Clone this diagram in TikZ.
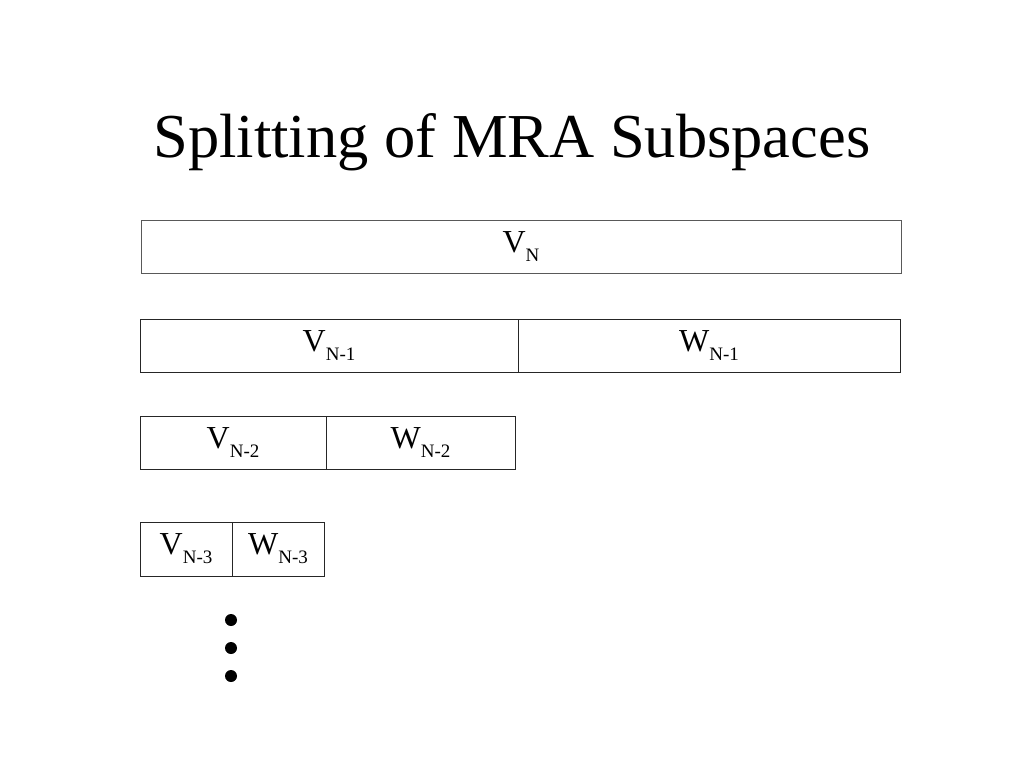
\documentclass[tikz,border=0pt]{standalone}
\usepackage{fontspec}
\setmainfont{Liberation Serif}
\newcommand{\subsp}[2]{#1\raisebox{-9pt}{\fontsize{19}{20}\selectfont #2}}
\tikzset{
	cell/.style={draw=black!85, line width=1pt, rectangle, inner sep=0pt, minimum height=53pt, font=\fontsize{32}{34}\selectfont},
	bigdot/.style={circle, fill=black, inner sep=0pt, minimum size=12pt}
}
\begin{document}
\begin{tikzpicture}[x=1pt, y=-1pt]
	        \useasboundingbox (0, 0) rectangle (1024, 768);
	        \node [anchor=base] at (512, 157) (title) {\fontsize{62.5}{66}\selectfont Splitting of MRA Subspaces};
	        
	        % level N
	        \node [cell, draw=black!65, minimum width=760pt] at (521, 246.5) (vn) {\subsp{V}{N}};
	        
	        % level N-1
	        \node [cell, minimum width=378pt] at (329, 345.5) (vn1) {\subsp{V}{N-1}};
	        \node [cell, minimum width=382pt] at (709, 345.5) (wn1) {\subsp{W}{N-1}};
	        
	        % level N-2
	        \node [cell, minimum width=186pt] at (233, 442.5) (vn2) {\subsp{V}{N-2}};
	        \node [cell, minimum width=189pt] at (420.5, 442.5) (wn2) {\subsp{W}{N-2}};
	        
	        % level N-3
	        \node [cell, minimum width=92pt, minimum height=54pt] at (186, 549) (vn3) {\subsp{V}{N-3}};
	        \node [cell, minimum width=92pt, minimum height=54pt] at (278, 549) (wn3) {\subsp{W}{N-3}};
	        
	        \foreach \i/\y in {1/620, 2/648, 3/676}
	            \node [bigdot] at (231, \y) (dot\i) {};
        \end{tikzpicture}
\end{document}
